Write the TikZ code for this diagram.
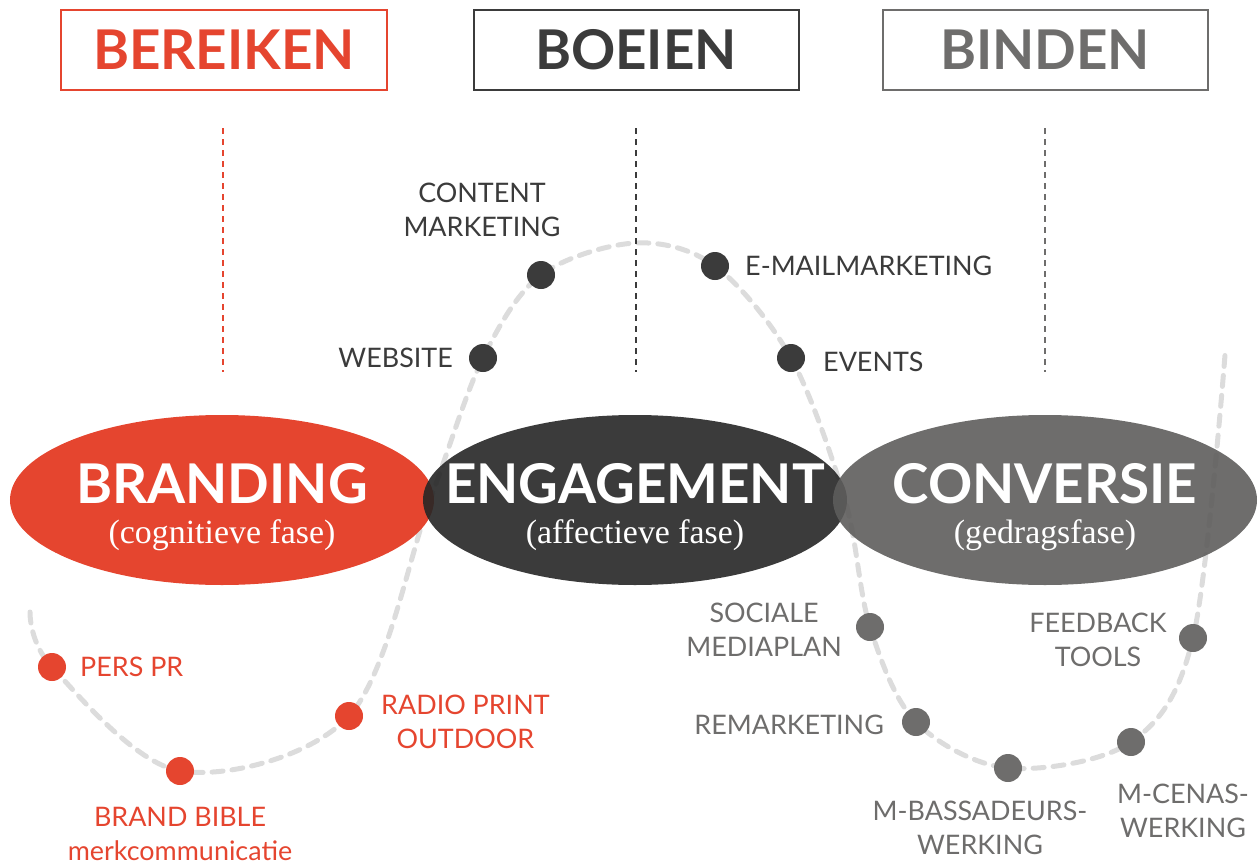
\documentclass[tikz,border=0pt]{standalone}
\usepackage{fontspec}
\setmainfont{Lato}
\newfontfamily\subserif{Liberation Serif}
\usetikzlibrary{positioning,calc,shapes.geometric,backgrounds}
\definecolor{brandred}{HTML}{E5452F}
\definecolor{engdark}{HTML}{3B3B3B}
\definecolor{convgray}{HTML}{6E6D6C}
\definecolor{engfill}{HTML}{262626}
\definecolor{convfill}{HTML}{5E5D5C}
\definecolor{wavegray}{HTML}{DCDCDC}
\tikzset{headbox/.style={draw,line width=2bp,minimum width=325bp,minimum height=79bp,inner sep=0pt,
    font=\fontsize{55}{60}\selectfont\bfseries},
  phase/.style={ellipse,minimum width=424bp,minimum height=170bp,inner sep=0pt},
  phasetitle/.style={text=white,font=\fontsize{55}{60}\selectfont\bfseries,inner sep=0pt},
  phasesub/.style={text=white,font=\subserif\fontsize{34}{38}\selectfont,inner sep=0pt},
  dot/.style={circle,minimum size=28bp,inner sep=0pt},
  lab/.style={font=\fontsize{27}{34}\selectfont,align=center,inner sep=0pt},
  divider/.style={line width=1.5bp,dash pattern=on 6bp off 5bp}}

\begin{document}
\begin{tikzpicture}[x=1bp,y=-1bp]
\useasboundingbox (0,0) rectangle (1260,865);
% stage headers
\node[headbox,brandred] (bereiken) at (224,50) {BEREIKEN};
\node[headbox,engdark] (boeien) at (636,50) {BOEIEN};
\node[headbox,convgray] (binden) at (1045,50) {BINDEN};
\draw[divider,brandred] (223,128) -- (223,372);
\draw[divider,engdark] (636,128) -- (636,372);
\draw[divider,convgray] (1045,128) -- (1045,372);
% phases
\node[phase,fill=brandred] (branding) at (222,500) {};
\node[phase,fill=engfill,fill opacity=0.9] (engagement) at (635,500) {};
\node[phase,fill=convfill,fill opacity=0.9] (conversie) at (1045,500) {};
\node[phasetitle] at ($(branding)+(0,-16)$) {BRANDING};
\node[phasesub] at ($(branding)+(0,35)$) {(cognitieve fase)};
\node[phasetitle] at ($(engagement)+(0,-16)$) {ENGAGEMENT};
\node[phasesub] at ($(engagement)+(0,35)$) {(affectieve fase)};
\node[phasetitle] at ($(conversie)+(0,-16)$) {CONVERSIE};
\node[phasesub] at ($(conversie)+(0,35)$) {(gedragsfase)};
% touchpoints
\node[dot,fill=brandred] (pers) at (52,667) {};
\node[dot,fill=brandred] (bible) at (180,771) {};
\node[dot,fill=brandred] (radio) at (349,716) {};
\node[dot,fill=engdark] (website) at (483,358) {};
\node[dot,fill=engdark] (content) at (541,275) {};
\node[dot,fill=engdark] (email) at (715,266) {};
\node[dot,fill=engdark] (events) at (791,358) {};
\node[dot,fill=convgray] (sociale) at (870,627) {};
\node[dot,fill=convgray] (remarketing) at (916,722) {};
\node[dot,fill=convgray] (bassadeurs) at (1008,768) {};
\node[dot,fill=convgray] (cenas) at (1131,742) {};
\node[dot,fill=convgray] (feedback) at (1193,638) {};
\node[lab,brandred,anchor=west] at (80,667) {PERS PR};
\node[lab,brandred] at (180,834) {BRAND BIBLE\\merkcommunicatie};
\node[lab,brandred,anchor=west] at (381,722) {RADIO PRINT\\OUTDOOR};
\node[lab,engdark,anchor=east] at (453,358) {WEBSITE};
\node[lab,engdark] at (482,210) {CONTENT\\MARKETING};
\node[lab,engdark,anchor=west] at (745,266) {E-MAILMARKETING};
\node[lab,engdark,anchor=west] at (823,362) {EVENTS};
\node[lab,convgray,anchor=east] at (842,630) {SOCIALE\\MEDIAPLAN};
\node[lab,convgray] at (1098,640) {FEEDBACK\\TOOLS};
\node[lab,convgray,anchor=east] at (884,725) {REMARKETING};
\node[lab,convgray] at (980,828) {M-BASSADEURS-\\WERKING};
\node[lab,convgray] at (1183,811) {M-CENAS-\\WERKING};
% the wave behind everything
\begin{scope}[on background layer]
\draw[wavegray,line width=5bp,dash pattern=on 11bp off 9bp,line cap=round]
  plot[smooth,tension=0.55] coordinates {(30,612) (pers) (bible) (radio) (430,500) (website)
    (content) (635,243) (email) (events) (845,500) (sociale) (remarketing) (bassadeurs)
    (cenas) (feedback) (1225,355)};
\end{scope}
\end{tikzpicture}
\end{document}
